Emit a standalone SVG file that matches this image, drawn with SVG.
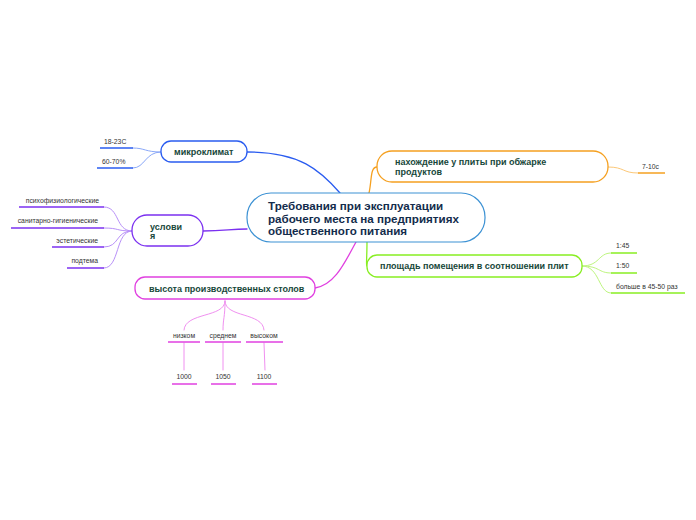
<svg xmlns="http://www.w3.org/2000/svg" width="696" height="520" viewBox="0 0 696 520">
<style>
.t{font-family:"Liberation Sans",Arial,sans-serif;font-weight:bold;font-size:9px;fill:#17473a}
.c{font-family:"Liberation Sans",Arial,sans-serif;font-weight:bold;font-size:11.6px;fill:#132c4c}
.l{font-family:"Liberation Sans",Arial,sans-serif;font-size:6.8px;fill:#333}
.lm{text-anchor:middle}
.le{text-anchor:end}
path{fill:none}
</style>
<rect width="696" height="520" fill="#fff"/>
<g id="connectors" stroke-linecap="round">
  <path d="M247,152 C300,152 320,170 340,193" stroke="#2a5cf0" stroke-width="1.3"/>
  <path d="M161,152 C145,152 145,148 133,148 M161,152 C145,152 145,168 133,168" stroke="#8aa8f8" stroke-width="1"/>
  <path d="M203,231 C225,231 230,229 247,229" stroke="#7b30f0" stroke-width="1.3"/>
  <path d="M132,231 C115,231 120,207 104,207 M132,231 C115,231 120,228 104,228 M132,231 C115,231 120,247 104,247 M132,231 C115,231 120,268 104,268" stroke="#b890f8" stroke-width="1"/>
  <path d="M315,288 C335,285 345,262 356,242" stroke="#e040e0" stroke-width="1.3"/>
  <path d="M225,301 C225,318 185,312 184,330 M225,301 C225,318 223,318 223,330 M225,301 C225,318 263,312 264,330" stroke="#f090f0" stroke-width="1"/>
  <path d="M184,343 L184,370 M223,343 L223,370 M264,343 L265,370" stroke="#f090f0" stroke-width="1"/>
  <path d="M369,193 C372,180 370,167 377,167" stroke="#f5a020" stroke-width="1.3"/>
  <path d="M608,167 C625,167 622,173 638,173" stroke="#fcc878" stroke-width="1"/>
  <path d="M367,242 C367,255 366,266 367,266" stroke="#88ee22" stroke-width="1.3"/>
  <path d="M582,266 C600,266 598,253 611,253 M582,266 C600,266 598,273 611,273 M582,266 C600,266 598,293 611,293" stroke="#bdf57e" stroke-width="1"/>
</g>
<g id="center">
  <rect x="247" y="193" width="238" height="49" rx="24" fill="#fff" stroke="#3d92d4" stroke-width="1.2"/>
  <text class="c" x="268" y="210">Требования при эксплуатации</text>
  <text class="c" x="268" y="222.5">рабочего места на предприятиях</text>
  <text class="c" x="268" y="235">общественного питания</text>
</g>
<g id="mikroklimat">
  <rect x="161" y="141" width="86" height="21" rx="10" fill="#fff" stroke="#2a5cf0" stroke-width="1.3"/>
  <text class="t" x="174" y="155">микроклимат</text>
</g>
<g id="m1"><text class="l" x="104" y="144">18-23C</text><path d="M100,148 H133" stroke="#2a5cf0" stroke-width="1.5"/></g>
<g id="m2"><text class="l" x="102" y="164">60-70%</text><path d="M97,168 H133" stroke="#2a5cf0" stroke-width="1.5"/></g>
<g id="usloviya">
  <rect x="132" y="215" width="71" height="31" rx="15" fill="#fff" stroke="#7b30f0" stroke-width="1.3"/>
  <text class="t" x="150" y="230">услови</text>
  <text class="t" x="150" y="239">я</text>
</g>
<g id="u1"><text class="l le" x="99" y="203">психофизиологические</text><path d="M19,207 H104" stroke="#7b30f0" stroke-width="1.5"/></g>
<g id="u2"><text class="l le" x="98" y="223">санитарно-гигиенические</text><path d="M11,228 H104" stroke="#7b30f0" stroke-width="1.5"/></g>
<g id="u3"><text class="l le" x="98" y="243">эстетические</text><path d="M52,247 H104" stroke="#7b30f0" stroke-width="1.5"/></g>
<g id="u4"><text class="l le" x="98" y="263">подтема</text><path d="M67,268 H104" stroke="#7b30f0" stroke-width="1.5"/></g>
<g id="vysota">
  <rect x="135" y="277" width="180" height="22" rx="10" fill="#fff" stroke="#e040e0" stroke-width="1.3"/>
  <text class="t" x="149" y="292">высота производственных столов</text>
</g>
<g id="v1"><text class="l lm" x="184" y="338">низком</text><path d="M168,342 H200" stroke="#e040e0" stroke-width="1.5"/></g>
<g id="v2"><text class="l lm" x="223" y="338">среднем</text><path d="M205,342 H241" stroke="#e040e0" stroke-width="1.5"/></g>
<g id="v3"><text class="l lm" x="264" y="338">высоком</text><path d="M246,342 H283" stroke="#e040e0" stroke-width="1.5"/></g>
<g id="v4"><text class="l lm" x="184" y="379">1000</text><path d="M172,384 H197" stroke="#e040e0" stroke-width="1.5"/></g>
<g id="v5"><text class="l lm" x="223" y="379">1050</text><path d="M211,384 H236" stroke="#e040e0" stroke-width="1.5"/></g>
<g id="v6"><text class="l lm" x="264" y="379">1100</text><path d="M252,384 H277" stroke="#e040e0" stroke-width="1.5"/></g>
<g id="nahozhdenie">
  <rect x="377" y="151" width="231" height="31" rx="15" fill="#fff" stroke="#f5a020" stroke-width="1.3"/>
  <text class="t" x="395" y="165">нахождение у плиты при обжарке</text>
  <text class="t" x="395" y="175">продуктов</text>
</g>
<g id="n1"><text class="l" x="642" y="169">7-10c</text><path d="M638,173 H665" stroke="#f5a020" stroke-width="1.5"/></g>
<g id="ploshchad">
  <rect x="367" y="255" width="215" height="22" rx="10" fill="#fff" stroke="#88ee22" stroke-width="1.3"/>
  <text class="t" x="380" y="269">площадь помещения в соотношении плит</text>
</g>
<g id="p1"><text class="l" x="616" y="248">1:45</text><path d="M611,253 H637" stroke="#88ee22" stroke-width="1.5"/></g>
<g id="p2"><text class="l" x="616" y="268">1:50</text><path d="M611,273 H637" stroke="#88ee22" stroke-width="1.5"/></g>
<g id="p3"><text class="l" x="616" y="289">больше в 45-50 раз</text><path d="M611,293 H685" stroke="#88ee22" stroke-width="1.5"/></g>
</svg>
